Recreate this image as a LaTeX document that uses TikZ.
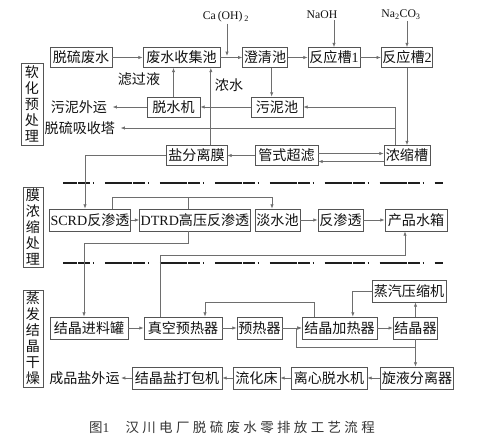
\documentclass[tikz,border=0pt]{standalone}
\usepackage{fontspec}
\setmainfont{Liberation Serif}
\newfontfamily\cjk{Noto Sans CJK SC}
\usepackage{xcolor}
\usepackage{tikz}
\usetikzlibrary{arrows.meta,calc,positioning}
\definecolor{zldLine}{HTML}{6E6E6E}
\definecolor{zldEdge}{HTML}{555555}
\definecolor{zldText}{HTML}{111111}
\definecolor{zldSep}{HTML}{1E1E1E}
\tikzset{
  zldbox/.style={rectangle,draw=zldEdge,line width=0.6pt,minimum height=0.6cm,
                 inner xsep=1pt,inner ysep=0pt,
                 font=\cjk\fontsize{12}{14}\selectfont,text=zldText},
  zldtag/.style={zldbox,align=center,minimum width=0.6cm,
                 font=\cjk\fontsize{12}{13.7}\selectfont},
  zldlabel/.style={font=\cjk\fontsize{12}{14}\selectfont,text=zldText,inner sep=1pt},
  zldout/.style={zldlabel,anchor=east,inner xsep=4.5pt},
  zldchem/.style={font=\fontsize{10}{12}\selectfont,text=zldText,inner sep=1pt},
  zldflow/.style={-{Latex[length=1.3mm,width=1mm]},line width=0.6pt,zldLine},
  zldline/.style={line width=0.6pt,zldLine},
  zldsep/.style={line width=1.7pt,zldSep,
                 dash pattern=on 23pt off 1.3pt on 10.2pt off 2.1pt on 1.3pt off 9pt,
                 dash phase=11.1pt}
}

\begin{document}
\begin{tikzpicture}[x=0.03cm,y=-0.03cm]
    \useasboundingbox (0,0) rectangle (485,439);

    % 软化预处理
    \begin{scope}
      \node[zldtag,minimum width=0.66cm,minimum height=2.46cm] (tagSoft)
        at (32,104) {软\\化\\预\\处\\理};
      \node[zldbox,minimum width=1.86cm] (waste) at (81,57.5) {脱硫废水};
      \node[zldbox,minimum width=2.31cm] (collect) at (181.5,57.5) {废水收集池};
      \node[zldbox,minimum width=1.32cm] (clarify) at (265,57.5) {澄清池};
      \node[zldbox,minimum width=1.56cm] (react1) at (334,57.5) {反应槽{\rmfamily 1}};
      \node[zldbox,minimum width=1.5cm] (react2) at (407,57.5) {反应槽{\rmfamily 2}};
      \node[zldchem] (caLbl) at (226,17) {Ca\,(OH)\,\textsubscript{2}};
      \node[zldchem] (naohLbl) at (322,15) {NaOH};
      \node[zldchem] (sodaLbl) at (401,15) {Na\textsubscript{2}CO\textsubscript{3}};
      \coordinate (caIn) at (227,56);

      \node[zldbox,minimum width=1.59cm] (dewater) at (173.5,107) {脱水机};
      \node[zldbox,minimum width=1.56cm] (sludge) at (277,107) {污泥池};
      \node[zldlabel] (filtrate) at (139,79) {滤过液};
      \node[zldlabel] (brine) at (229,85) {浓水};
      \node[zldout] (sludgeOut) at (112.5,107) {污泥外运};
      \node[zldout] (absorb) at (120.5,128) {脱硫吸收塔};

      \node[zldbox,minimum width=1.83cm] (salt) at (196.5,155.5) {盐分离膜};
      \node[zldbox,minimum width=1.89cm] (tubeuf) at (286.5,155.5) {管式超滤};
      \node[zldbox,minimum width=1.38cm] (conc) at (407,155.5) {浓缩槽};

      \coordinate (clarOut) at ([xshift=0.2cm]clarify.south);
      \coordinate (saltUp) at ([xshift=0.43cm]salt.north);
      \coordinate (concUp) at ([xshift=-0.36cm]conc.north);
      \coordinate (ufTop) at ([yshift=0.06cm]tubeuf.east);
      \coordinate (concBack) at ([yshift=-0.18cm]conc.west);

      \draw[zldflow] (waste.east) -- (collect.west);
      \draw[zldflow] (collect.east) -- (clarify.west);
      \draw[zldflow] (clarify.east) -- (react1.west);
      \draw[zldflow] (react1.east) -- (react2.west);
      \draw[zldflow] (caLbl.south -| caIn) -- (caIn);
      \draw[zldflow] (react1.north |- naohLbl.south) -- (react1.north);
      \draw[zldflow] (react2.north |- sodaLbl.south) -- (react2.north);
      \draw[zldflow] (clarOut) -- (clarOut |- sludge.north);
      \draw[zldflow] (sludge.west) -- (dewater.east);
      \draw[zldflow] (dewater.west) -- (sludgeOut.east);
      \draw[zldflow] (dewater.north) -- (dewater.north |- collect.south);
      \draw[zldflow] (saltUp) -- (saltUp |- collect.south);
      \draw[zldflow] (react2.south) -- (conc.north);
      \draw[zldflow] (concUp) |- (sludge.east);
      \draw[zldflow] (concUp |- absorb.east) -- (absorb.east);
      \draw[zldflow] (ufTop) -- (ufTop -| conc.west);
      \draw[zldflow] (concBack) -- (concBack -| tubeuf.east);
      \draw[zldflow] (tubeuf.west) -- (salt.east);
    \end{scope}

    \draw[zldsep] (63,183) -- (443,183);
    \draw[zldsep] (63,263) -- (443,263);

    % 膜浓缩处理
    \begin{scope}[zldbox/.append style={minimum height=0.66cm}]
      \node[zldtag,minimum height=2.4cm] (tagMem) at (33,227) {膜\\浓\\缩\\处\\理};
      \node[zldbox,minimum width=2.4cm] (scrd) at (90,220) {{\rmfamily SCRD}反渗透};
      \node[zldbox,minimum width=3.18cm] (dtrd) at (195,220) {{\rmfamily DTRD}高压反渗透};
      \node[zldbox,minimum width=1.35cm] (fresh) at (277.5,220) {淡水池};
      \node[zldbox,minimum width=1.35cm] (ro) at (340.5,220) {反渗透};
      \node[zldbox,minimum width=1.86cm] (product) at (416,220) {产品水箱};

      \coordinate (permY) at (0,197);
      \coordinate (brineY) at (0,243);
      \coordinate (scrdIn) at ([xshift=-0.15cm]scrd.north);
      \coordinate (scrdUp) at ([xshift=0.66cm]scrd.north);
      \coordinate (dtrdUp) at ([xshift=-0.21cm]dtrd.north);
      \coordinate (dtrdDown) at ([xshift=-0.21cm]dtrd.south);
      \coordinate (freshIn) at ([xshift=-0.165cm]fresh.north);

      \draw[zldflow] (salt.west) -| (scrdIn);
      \draw[zldflow] (scrd.east) -- (dtrd.west);
      \draw[zldflow] (scrdUp) -- (scrdUp |- permY) -| (freshIn);
      \draw[zldline] (dtrdUp) -- (dtrdUp |- permY);
      \draw[zldflow] (fresh.east) -- (ro.west);
      \draw[zldflow] (ro.east) -- (product.west);
    \end{scope}

    % 蒸发结晶干燥
    \begin{scope}[zldbox/.append style={minimum height=0.66cm}]
      \node[zldtag,minimum height=2.91cm] (tagEvap) at (33,338.5)
        {蒸\\发\\结\\晶\\干\\燥};
      \node[zldbox,minimum width=2.34cm] (feed) at (89,328) {结晶进料罐};
      \node[zldbox,minimum width=2.34cm] (vacpre) at (183,328) {真空预热器};
      \node[zldbox,minimum width=1.35cm] (pre) at (259.5,328) {预热器};
      \node[zldbox,minimum width=2.25cm] (heater) at (339.5,328) {结晶加热器};
      \node[zldbox,minimum width=1.29cm] (cryst) at (415.5,328) {结晶器};
      \node[zldbox,minimum width=2.22cm] (comp) at (409,291) {蒸汽压缩机};

      \node[zldbox,minimum width=2.16cm] (cyclone) at (417,378) {旋液分离器};
      \node[zldbox,minimum width=2.28cm] (centri) at (329,378) {离心脱水机};
      \node[zldbox,minimum width=1.41cm] (fluid) at (256.5,378) {流化床};
      \node[zldbox,minimum width=2.7cm] (pack) at (177,378) {结晶盐打包机};
      \node[zldlabel,anchor=east] (saltOut) at (121,378) {成品盐外运};

      \coordinate (condY) at (0,255);
      \coordinate (retY) at (0,302);
      \coordinate (loopY) at (0,347);
      \coordinate (feedIn) at ([xshift=-0.15cm]feed.north);
      \coordinate (vacUp) at ([xshift=-0.69cm]vacpre.north);
      \coordinate (vacIn) at ([xshift=0.66cm]vacpre.north);
      \coordinate (prodIn) at ([xshift=-0.33cm]product.south);
      \coordinate (heatUp) at ([xshift=-0.765cm]heater.north);
      \coordinate (heatIn) at ([xshift=0.4cm]heater.north);
      \coordinate (heatBack) at ([xshift=-0.15cm]heater.west);

      \draw[zldflow] (dtrdDown) -- (dtrdDown |- brineY) -| (feedIn);
      \draw[zldflow] (vacUp) -- (vacUp |- condY) -| (prodIn);
      \draw[zldflow] (feed.east) -- (vacpre.west);
      \draw[zldflow] (vacpre.east) -- (pre.west);
      \draw[zldflow] (pre.east) -- (heater.west);
      \draw[zldflow] (heater.east) -- (cryst.west);
      \draw[zldflow] (heatUp) -- (heatUp |- retY) -| (vacIn);
      \draw[zldflow] (comp.west) -| (heatIn);
      \draw[zldflow] (cryst.north) -- (cryst.north |- comp.south);
      \draw[zldflow] (cryst.south) -- (cryst.south |- cyclone.north);
      \draw[zldflow] (cryst.south |- loopY) -| (heatBack) -- (heater.west);
      \draw[zldflow] (cyclone.west) -- (centri.east);
      \draw[zldflow] (centri.west) -- (fluid.east);
      \draw[zldflow] (fluid.west) -- (pack.east);
      \draw[zldflow] (pack.west) -- (saltOut.east);
    \end{scope}

    \node[font=\cjk\fontsize{11.5}{14}\selectfont\addfontfeature{LetterSpace=25},
          text=black!80] (caption)
      at (232,427) {图{\rmfamily 1}\hspace{1.2em}汉川电厂脱硫废水零排放工艺流程};
  \end{tikzpicture}
\end{document}
